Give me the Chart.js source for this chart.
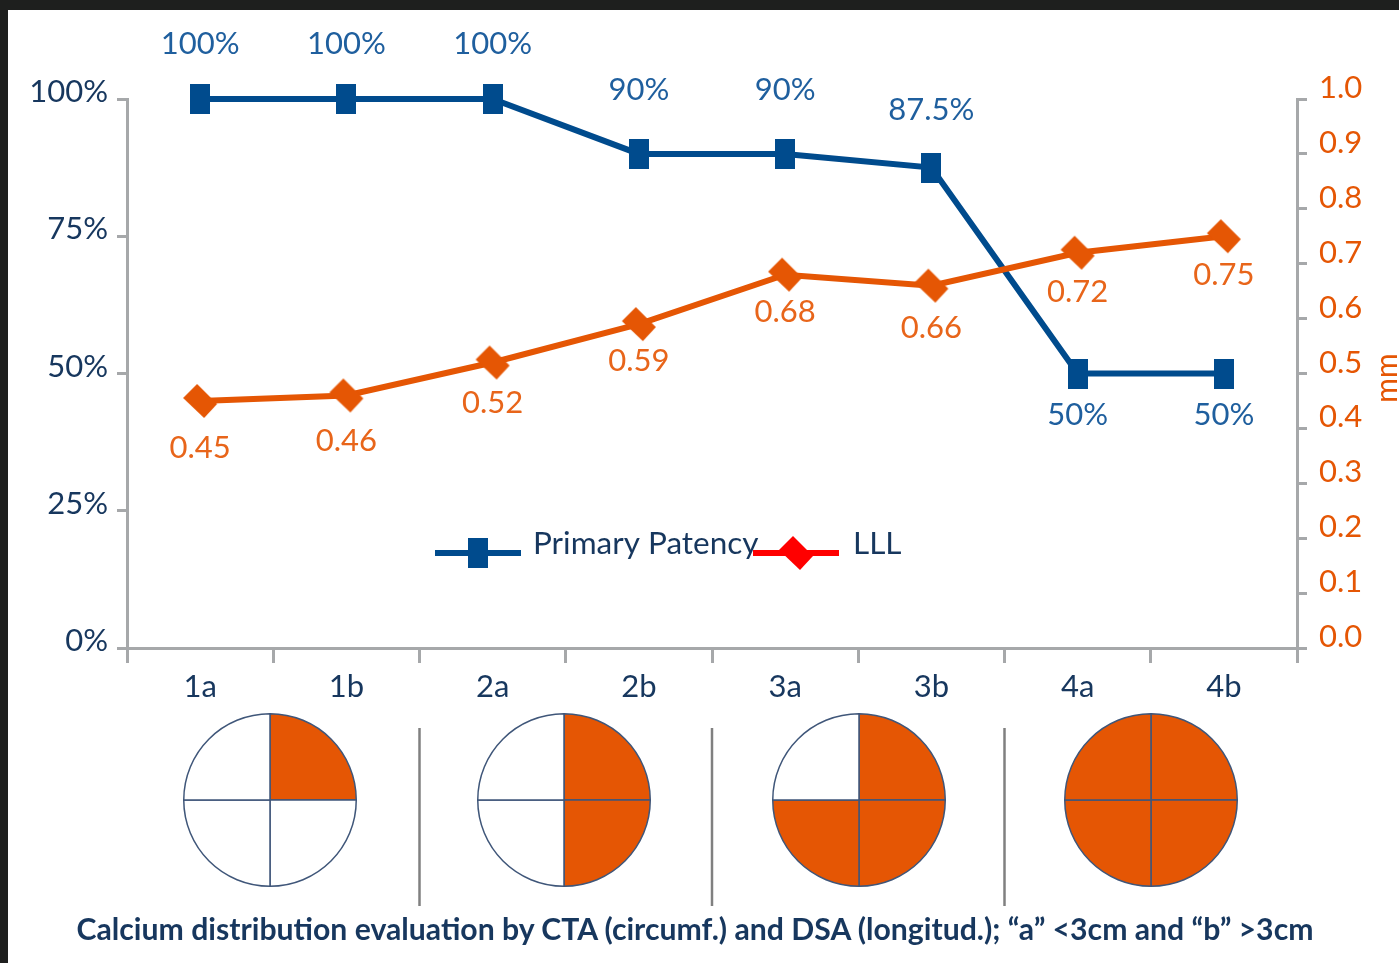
<!DOCTYPE html>
<html>
<head>
<meta charset="utf-8">
<title>Calcium distribution</title>
<script src="https://cdn.jsdelivr.net/npm/chart.js@4"></script>
<style>
    html, body { margin: 0; padding: 0; width: 1399px; height: 963px; overflow: hidden; background: #fff; }
    #topBar { position: absolute; left: 0; top: 0; width: 1399px; height: 10px; background: #1e1f1e; }
    #leftBar { position: absolute; left: 0; top: 0; width: 8px; height: 963px; background: #1e1f1e; }
    #mainChart { position: absolute; left: 0; top: 0; }
    .pie { position: absolute; top: 710px; }
    #caption { position: absolute; left: 0; top: 910px; width: 1390px; text-align: center; font: bold 30.2px Lato; color: #17375e; white-space: nowrap; }
</style>
</head>
<body>
<div id="topBar"></div>
<div id="leftBar"></div>
<canvas id="mainChart" width="1399" height="963"></canvas>
<canvas class="pie" id="pie0" width="180" height="180" style="left:180px"></canvas>
<canvas class="pie" id="pie1" width="180" height="180" style="left:474px"></canvas>
<canvas class="pie" id="pie2" width="180" height="180" style="left:769px"></canvas>
<canvas class="pie" id="pie3" width="180" height="180" style="left:1061px"></canvas>
<div id="caption">Calcium distribution evaluation by CTA (circumf.) and DSA (longitud.); “a” &lt;3cm and “b” &gt;3cm</div>

<script>
const categories = ["1a", "1b", "2a", "2b", "3a", "3b", "4a", "4b"];
const patencyValues = [100, 100, 100, 90, 90, 87.5, 50, 50];
const patencyLabels = ["100%", "100%", "100%", "90%", "90%", "87.5%", "50%", "50%"];
const lllValues = [0.45, 0.46, 0.52, 0.59, 0.68, 0.66, 0.72, 0.75];
const lllLabels = ["0.45", "0.46", "0.52", "0.59", "0.68", "0.66", "0.72", "0.75"];
const quadrants = [1, 1, 1, 1];
const filledQuadrants = [1, 2, 3, 4];

// label distance from its point
const patencyLabelOffsets = [-55, -55, -55, -64, -64, -58, 41, 41];
const lllLabelOffsets = [47, 46, 40, 37, 37, 42, 39, 39];

const BLUE = "#004b8d";
const ORANGE = "#e55604";
const NAVY = "#17375e";
const AXIS_GRAY = "#a6a8aa";
const FONT = "Lato";
const FONT_SIZE = 31;

// tall square marker
const squareMarker = (color) => {
    const c = document.createElement("canvas");
    c.width = 20;
    c.height = 30;
    const ctx = c.getContext("2d");
    ctx.fillStyle = color;
    ctx.fillRect(0, 0, 20, 30);
    return c;
}

// slightly tilted diamond marker
const diamondMarker = (color) => {
    const c = document.createElement("canvas");
    c.width = 36;
    c.height = 36;
    const ctx = c.getContext("2d");
    ctx.fillStyle = color;
    ctx.beginPath();
    ctx.moveTo(15, 1);
    ctx.lineTo(35, 21);
    ctx.lineTo(22, 35);
    ctx.lineTo(1, 15);
    ctx.closePath();
    ctx.fill();
    return c;
}

const valueLabelsPlugin = {
    id: "valueLabels",
    afterDatasetsDraw(chart) {
        const ctx = chart.ctx;
        ctx.save();
        ctx.font = `${FONT_SIZE}px ${FONT}`;
        ctx.textAlign = "center";
        ctx.textBaseline = "middle";
        chart.getDatasetMeta(0).data.forEach((pt, i) => {
            ctx.fillStyle = "#1f5f9e";
            ctx.fillText(patencyLabels[i], pt.x, pt.y + patencyLabelOffsets[i]);
        });
        chart.getDatasetMeta(1).data.forEach((pt, i) => {
            ctx.fillStyle = "#e8651a";
            ctx.fillText(lllLabels[i], pt.x, pt.y + lllLabelOffsets[i]);
        });
        ctx.restore();
    }
};

const legendPlugin = {
    id: "lineLegend",
    afterDraw(chart) {
        const ctx = chart.ctx;
        ctx.save();
        ctx.font = `31.5px ${FONT}`;
        ctx.textBaseline = "middle";
        ctx.fillStyle = NAVY;
        ctx.fillText("Primary Patency", 533, 544);
        ctx.fillText("LLL", 853, 544);

        ctx.fillStyle = BLUE;
        ctx.fillRect(435, 550, 86, 6);
        ctx.drawImage(squareMarker(BLUE), 468, 538);

        ctx.fillStyle = "#ff0000";
        ctx.fillRect(753, 550, 86, 6);
        ctx.drawImage(diamondMarker("#ff0000"), 778, 535);
        ctx.restore();
    }
};

// axis unit and the dividers between the circle groups
const extrasPlugin = {
    id: "extras",
    afterDraw(chart) {
        const ctx = chart.ctx;
        const xScale = chart.scales.x;
        ctx.save();
        ctx.strokeStyle = "#808080";
        ctx.lineWidth = 2.5;
        [1, 3, 5].forEach((i) => {
            const x = (xScale.getPixelForValue(i) + xScale.getPixelForValue(i + 1)) / 2;
            ctx.beginPath();
            ctx.moveTo(x, 728);
            ctx.lineTo(x, 906);
            ctx.stroke();
        });
        ctx.translate(1387, 378);
        ctx.rotate(-Math.PI / 2);
        ctx.font = `30px ${FONT}`;
        ctx.fillStyle = ORANGE;
        ctx.textAlign = "center";
        ctx.textBaseline = "middle";
        ctx.fillText("mm", 0, 0);
        ctx.restore();
    }
};

new Chart(document.getElementById("mainChart"), {
    type: "line",
    data: {
        labels: categories,
        datasets: [
            {
                label: "Primary Patency",
                data: patencyValues,
                yAxisID: "y",
                borderColor: BLUE,
                borderWidth: 6,
                tension: 0,
                pointStyle: squareMarker(BLUE),
                pointRadius: 10,
                clip: false,
                order: 1
            },
            {
                label: "LLL",
                data: lllValues,
                yAxisID: "y1",
                borderColor: ORANGE,
                borderWidth: 6,
                tension: 0,
                pointStyle: diamondMarker(ORANGE),
                pointRadius: 10,
                clip: false,
                order: 0
            }
        ]
    },
    plugins: [valueLabelsPlugin, legendPlugin, extrasPlugin],
    options: {
        responsive: false,
        animation: false,
        events: [],
        layout: { padding: { top: 99, left: 0, right: 0, bottom: 0 } },
        plugins: { legend: { display: false }, tooltip: { enabled: false } },
        scales: {
            x: {
                offset: true,
                afterFit: (s) => { s.height = 315; },
                grid: { offset: true, drawOnChartArea: false, color: AXIS_GRAY, lineWidth: 3, tickLength: 15 },
                border: { color: AXIS_GRAY, width: 3 },
                ticks: { color: NAVY, font: { family: FONT, size: FONT_SIZE }, padding: 5, maxRotation: 0 }
            },
            y: {
                position: "left",
                min: 0,
                max: 100,
                afterFit: (s) => { s.width = 127; },
                grid: { drawOnChartArea: false, color: AXIS_GRAY, lineWidth: 3, tickLength: 10 },
                border: { color: AXIS_GRAY, width: 3 },
                ticks: {
                    stepSize: 25,
                    color: NAVY,
                    font: { family: FONT, size: FONT_SIZE },
                    padding: 9,
                    labelOffset: -7,
                    callback: (v) => v + "%"
                }
            },
            y1: {
                position: "right",
                min: 0,
                max: 1,
                afterFit: (s) => { s.width = 102; },
                grid: { drawOnChartArea: false, color: AXIS_GRAY, lineWidth: 3, tickLength: 10 },
                border: { color: AXIS_GRAY, width: 3 },
                ticks: {
                    stepSize: 0.1,
                    color: ORANGE,
                    font: { family: FONT, size: FONT_SIZE },
                    padding: 12,
                    labelOffset: -11,
                    callback: (v) => v.toFixed(1)
                }
            }
        }
    }
});

filledQuadrants.forEach((filled, i) => {
    new Chart(document.getElementById("pie" + i), {
        type: "pie",
        data: {
            datasets: [{
                data: quadrants,
                backgroundColor: quadrants.map((q, k) => k < filled ? ORANGE : "#ffffff"),
                borderColor: "#3f5679",
                borderWidth: 1.5,
                borderAlign: "center"
            }]
        },
        options: {
            responsive: false,
            animation: false,
            events: [],
            layout: { padding: 3 },
            plugins: { legend: { display: false }, tooltip: { enabled: false } }
        }
    });
});
</script>
</body>
</html>
